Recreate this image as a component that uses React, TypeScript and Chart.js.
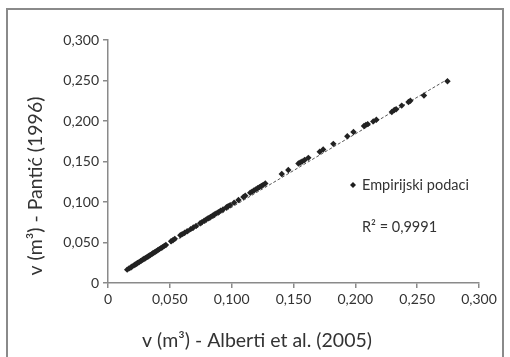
import React, { useEffect, useRef } from "react";
import { Chart, registerables } from "chart.js";

Chart.register(...registerables);

// Empirical data: v (m³) Alberti et al. (2005) vs v (m³) Pantić (1996)
const xValues: number[] = [
  0.0155, 0.017, 0.0185, 0.0195, 0.021, 0.022, 0.0232, 0.024, 0.0252, 0.0262,
  0.027, 0.0281, 0.029, 0.0301, 0.031, 0.0322, 0.0333, 0.0342, 0.0355, 0.0365,
  0.0378, 0.039, 0.0402, 0.0415, 0.0428, 0.044, 0.0455, 0.0468, 0.051, 0.0525,
  0.054, 0.0585, 0.06, 0.062, 0.064, 0.0668, 0.069, 0.0712, 0.0745, 0.076,
  0.0778, 0.0795, 0.081, 0.0828, 0.0845, 0.086, 0.0875, 0.0892, 0.091, 0.093,
  0.0958, 0.0972, 0.0988, 0.102, 0.1055, 0.1095, 0.111, 0.115, 0.1165, 0.118,
  0.1195, 0.121, 0.1225, 0.124, 0.1255, 0.1272, 0.1405, 0.1458, 0.154, 0.1555,
  0.157, 0.159, 0.162, 0.1712, 0.174, 0.1822, 0.1935, 0.1985, 0.207, 0.2085,
  0.21, 0.2145, 0.217, 0.2295, 0.2315, 0.233, 0.2375, 0.243, 0.2445, 0.2555,
  0.2745,
];
const yValues: number[] = [
  0.0165, 0.018, 0.0192, 0.0205, 0.0218, 0.0228, 0.0238, 0.0249, 0.0258, 0.027,
  0.0276, 0.0288, 0.0296, 0.0305, 0.0316, 0.0325, 0.0338, 0.0345, 0.0357, 0.037,
  0.038, 0.0393, 0.0405, 0.0418, 0.043, 0.0442, 0.0458, 0.047, 0.0515, 0.0528,
  0.0545, 0.059, 0.0603, 0.062, 0.0638, 0.0665, 0.0685, 0.0705, 0.0738, 0.0752,
  0.0768, 0.0785, 0.08, 0.0815, 0.083, 0.0845, 0.086, 0.0875, 0.0892, 0.0908,
  0.0935, 0.0948, 0.0962, 0.0992, 0.1025, 0.1062, 0.1078, 0.1115, 0.1128, 0.1142,
  0.1156, 0.117, 0.1184, 0.1198, 0.1212, 0.1228, 0.1345, 0.1395, 0.1475, 0.1488,
  0.15, 0.1518, 0.1545, 0.162, 0.1648, 0.1718, 0.1812, 0.1865, 0.1938, 0.1952,
  0.1962, 0.1995, 0.2015, 0.2112, 0.2135, 0.2145, 0.219, 0.2235, 0.225, 0.2315,
  0.249,
];

// Linear trend line end points
const trendX: number[] = [0.0155, 0.2745];
const trendY: number[] = [0.017, 0.2515];

const axisMin = 0;
const axisMax = 0.3;
const axisStep = 0.05;

const seriesLabel = "Empirijski podaci";
const r2Label = "R² = 0,9991";
const xTitle = "v (m³) - Alberti et al. (2005)";
const yTitle = "v (m³) - Pantić (1996)";

const FONT = "Lato, 'Open Sans', sans-serif";
const TEXT = "#333333";
const AXIS = "#8a8a8a";

const fmt = (v: number | string) => {
  const n = Number(v);
  if (Math.abs(n) < 1e-9) return "0";
  return n.toFixed(3).replace(".", ",");
};

export default function App() {
  const ref = useRef<HTMLCanvasElement | null>(null);

  useEffect(() => {
    document.body.style.margin = "0";
    const canvas = ref.current;
    if (!canvas) return;

    const overlay = {
      id: "overlay",
      afterDraw(chart: any) {
        const ctx = chart.ctx as CanvasRenderingContext2D;
        const area = chart.chartArea;
        ctx.save();
        ctx.fillStyle = TEXT;
        // axis titles
        ctx.font = `19.5px ${FONT}`;
        ctx.textAlign = "center";
        ctx.textBaseline = "middle";
        ctx.fillText(xTitle, 257, 341);
        ctx.save();
        ctx.translate(36, 186);
        ctx.rotate(-Math.PI / 2);
        ctx.fillText(yTitle, 0, 0);
        ctx.restore();
        // legend
        const lx = area.left + 245;
        const ly = area.top + 145;
        ctx.fillStyle = "#1e1e1e";
        ctx.beginPath();
        ctx.moveTo(lx, ly - 3);
        ctx.lineTo(lx + 3, ly);
        ctx.lineTo(lx, ly + 3);
        ctx.lineTo(lx - 3, ly);
        ctx.closePath();
        ctx.fill();
        ctx.fillStyle = TEXT;
        ctx.font = `14.5px ${FONT}`;
        ctx.textAlign = "left";
        ctx.fillText(seriesLabel, lx + 9, ly);
        ctx.fillText(r2Label, lx + 9, ly + 42);
        ctx.restore();
      },
    };

    const chart = new Chart(canvas, {
      type: "scatter",
      data: {
        datasets: [
          {
            label: seriesLabel,
            data: xValues.map((x, i) => ({ x, y: yValues[i] })),
            pointStyle: "rectRot",
            pointRadius: 3.2,
            backgroundColor: "#222222",
            borderColor: "#222222",
            borderWidth: 0,
            order: 0,
          },
          {
            label: "trend",
            type: "line",
            data: trendX.map((x, i) => ({ x, y: trendY[i] })),
            borderColor: "#555555",
            borderWidth: 1,
            borderDash: [3, 2],
            pointRadius: 0,
            fill: false,
            showLine: true,
            order: 1,
          } as any,
        ],
      },
      options: {
        responsive: false,
        animation: false,
        layout: { padding: { left: 0, right: 31, top: 40, bottom: 0 } },
        plugins: { legend: { display: false }, tooltip: { enabled: false } },
        scales: {
          x: {
            type: "linear",
            min: axisMin,
            max: axisMax,
            ticks: {
              stepSize: axisStep,
              callback: fmt,
              font: { family: FONT, size: 14 },
              color: TEXT,
              padding: 3,
              maxRotation: 0,
            },
            grid: { drawOnChartArea: false, tickLength: 5, color: AXIS, lineWidth: 1.5 },
            border: { color: AXIS, width: 1.5 },
            afterFit: (s: any) => {
              s.height = 74;
            },
          },
          y: {
            type: "linear",
            min: axisMin,
            max: axisMax,
            ticks: {
              stepSize: axisStep,
              callback: fmt,
              font: { family: FONT, size: 14 },
              color: TEXT,
              padding: 4,
            },
            grid: { drawOnChartArea: false, tickLength: 5, color: AXIS, lineWidth: 1.5 },
            border: { color: AXIS, width: 1.5 },
            afterFit: (s: any) => {
              s.width = 108;
            },
          },
        },
      } as any,
      plugins: [overlay],
    });
    return () => chart.destroy();
  }, []);

  return (
    <div style={{ position: "fixed", left: 0, top: 0, width: 510, height: 357, background: "#fff" }}>
      <canvas ref={ref} width={510} height={357} style={{ position: "absolute", left: 0, top: 0 }} />
      <div style={{ position: "absolute", left: 6, top: 8, width: 498, height: 349, borderLeft: "2px solid #8a8a8a", borderTop: "2px solid #8a8a8a", borderRight: "2px solid #8a8a8a", boxSizing: "border-box", pointerEvents: "none" }} />
    </div>
  );
}
